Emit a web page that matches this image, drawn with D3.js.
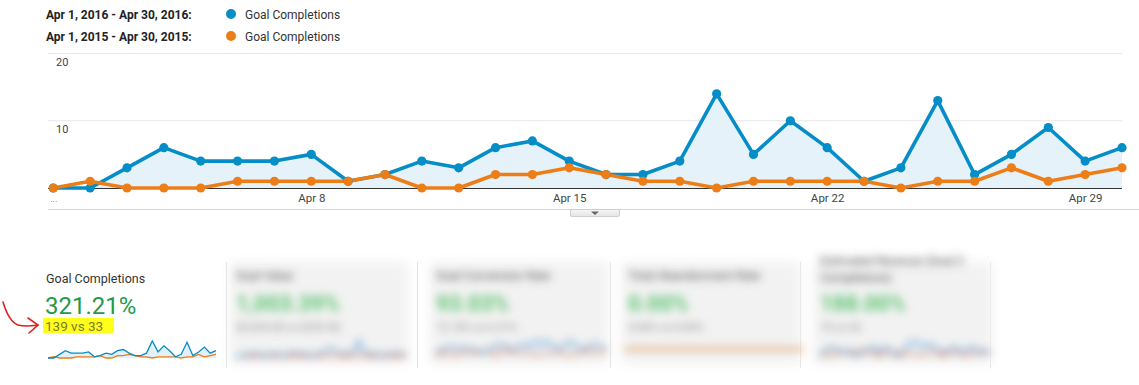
<!DOCTYPE html>
<html>
<head>
<meta charset="utf-8">
<script src="https://cdn.jsdelivr.net/npm/d3@7"></script>
<style>
  body { margin: 0; background: #fff; }
  svg { display: block; font-family: Roboto, "Open Sans", Arial, sans-serif; }
</style>
</head>
<body>
<div id="chart"></div>
<script>
// --- Data ---
const days = d3.range(1, 31).map((d) => `Apr ${d}`);
const goals2016 = [0, 0, 3, 6, 4, 4, 4, 5, 1, 2, 4, 3, 6, 7, 4, 2, 2, 4, 14, 5, 10, 6, 1, 3, 13, 2, 5, 9, 4, 6];
const goals2015 = [0, 1, 0, 0, 0, 1, 1, 1, 1, 2, 0, 0, 2, 2, 3, 2, 1, 1, 0, 1, 1, 1, 1, 0, 1, 1, 3, 1, 2, 3];
const tickDays = ["Apr 1", "Apr 8", "Apr 15", "Apr 22", "Apr 29"];
const tickText = ["...", "Apr 8", "Apr 15", "Apr 22", "Apr 29"];
const yTicks = [10, 20];

const legendRows = [
  { range: "Apr 1, 2016 - Apr 30, 2016:", metric: "Goal Completions", color: "#058dc7" },
  { range: "Apr 1, 2015 - Apr 30, 2015:", metric: "Goal Completions", color: "#ed7e17" },
];

// blurred scorecards (other metrics)
const cardTitles = [["Goal Value"], ["Goal Conversion Rate"], ["Total Abandonment Rate"], ["Estimated Revenue (Goal 3", "Completions)"]];
const cardValues = ["1,003.39%", "93.03%", "0.00%", "188.00%"];
const cardCompare = ["$3,434.00 vs $293.00", "12.18% vs 6.31%", "0.00% vs 0.00%", "75 vs 26"];
const cardSparkA = [
  [0, 0, 1, 1, 1, 0, 1, 1, 0, 1, 2, 1, 1, 0, 1, 2, 5, 3, 1, 1, 2, 9, 1, 1, 1, 0, 1, 1, 1, 1],
  [1, 2, 3, 3, 2, 3, 2, 2, 1, 2, 3, 4, 3, 2, 3, 4, 3, 5, 4, 5, 3, 2, 4, 5, 3, 2, 3, 4, 3, 3],
  [0, 0, 0, 0, 0, 0, 0, 0, 0, 0, 0, 0, 0, 0, 0, 0, 0, 0, 0, 0, 0, 0, 0, 0, 0, 0, 0, 0, 0, 0],
  [0, 2, 3, 2, 1, 2, 0, 1, 2, 3, 1, 3, 2, 0, 1, 4, 5, 4, 3, 4, 2, 1, 2, 3, 1, 2, 3, 1, 2, 1],
];
const cardSparkB = [
  [0, 0, 0, 0, 0, 0, 0, 0, 0, 0, 0, 0, 0, 0, 0, 0, 0, 0, 0, 0, 0, 0, 0, 0, 0, 0, 0, 0, 0, 0],
  [0, 1, 1, 0, 1, 1, 1, 1, 1, 2, 0, 1, 2, 1, 1, 1, 1, 0, 1, 1, 1, 1, 1, 0, 1, 1, 2, 1, 1, 2],
  [0, 0, 0, 0, 0, 0, 0, 0, 0, 0, 0, 0, 0, 0, 0, 0, 0, 0, 0, 0, 0, 0, 0, 0, 0, 0, 0, 0, 0, 0],
  [0, 1, 0, 1, 1, 1, 1, 2, 1, 1, 0, 1, 1, 1, 0, 1, 1, 0, 1, 1, 1, 0, 1, 1, 1, 0, 1, 1, 1, 1],
];

// --- Setup ---
const W = 1139, H = 385;
const blue = "#058dc7", orange = "#ed7e17";

const svg = d3.select("#chart").append("svg").attr("width", W).attr("height", H);

const defs = svg.append("defs");
defs.append("filter").attr("id", "blur").attr("x", "-20%").attr("y", "-40%").attr("width", "140%").attr("height", "180%")
  .append("feGaussianBlur").attr("stdDeviation", 4.2);
defs.append("filter").attr("id", "blurBg").attr("x", "-20%").attr("y", "-20%").attr("width", "140%").attr("height", "140%")
  .append("feGaussianBlur").attr("stdDeviation", 6);
const tabGrad = defs.append("linearGradient").attr("id", "tabGrad").attr("x1", 0).attr("y1", 0).attr("x2", 0).attr("y2", 1);
tabGrad.append("stop").attr("offset", 0).attr("stop-color", "#f7f7f7");
tabGrad.append("stop").attr("offset", 1).attr("stop-color", "#e4e4e4");

// --- Legend ---
const legend = svg.append("g");
legendRows.forEach((r, i) => {
  const y = 18.5 + i * 22;
  legend.append("text").attr("x", 46).attr("y", y).attr("font-size", 12).attr("font-weight", "bold")
    .attr("fill", "#222").text(r.range);
  legend.append("circle").attr("cx", 231).attr("cy", y - 4.5).attr("r", 5).attr("fill", r.color);
  legend.append("text").attr("x", 245).attr("y", y).attr("font-size", 12).attr("fill", "#333").text(r.metric);
});

// --- Main chart ---
const x = d3.scalePoint().domain(days).range([53.3, 1122]);
const y = d3.scaleLinear().domain([0, 20]).range([188, 53.5]);

const plot = svg.append("g");

// gridlines + y labels
yTicks.forEach((t) => {
  plot.append("line").attr("x1", 48).attr("x2", 1122).attr("y1", y(t)).attr("y2", y(t))
    .attr("stroke", "#e6e6e6").attr("stroke-width", 1);
  plot.append("text").attr("x", 56).attr("y", y(t) + 12.5).attr("font-size", 11).attr("fill", "#444").text(t);
});

// area under 2016 series
const area = d3.area().x((d, i) => x(days[i])).y0(y(0)).y1((d) => y(d));
plot.append("path").datum(goals2016).attr("d", area).attr("fill", "#e5f2f9");

// baseline
plot.append("line").attr("x1", 48).attr("x2", 1122).attr("y1", y(0) + 0.5).attr("y2", y(0) + 0.5)
  .attr("stroke", "#333").attr("stroke-width", 1);

// lines and points
const line = d3.line().x((d, i) => x(days[i])).y((d) => y(d));
[[goals2016, blue], [goals2015, orange]].forEach(([vals, c]) => {
  plot.append("path").datum(vals).attr("d", line).attr("fill", "none").attr("stroke", c)
    .attr("stroke-width", 3.6).attr("stroke-linejoin", "round");
});
[[goals2016, blue], [goals2015, orange]].forEach(([vals, c]) => {
  plot.selectAll(null).data(vals).join("circle")
    .attr("cx", (d, i) => x(days[i])).attr("cy", (d) => y(d)).attr("r", 4.6).attr("fill", c);
});

// x axis labels
const xAxis = d3.axisBottom(x).tickValues(tickDays).tickSize(0)
  .tickFormat((d) => tickText[tickDays.indexOf(d)]);
const xg = plot.append("g").attr("transform", `translate(0,${y(0) + 3})`).call(xAxis);
xg.select(".domain").remove();
xg.selectAll("text").attr("font-size", 11.5).attr("fill", "#444").attr("font-family", "Roboto, Arial, sans-serif");
xg.selectAll(".tick").filter((d) => d === "Apr 1").select("text").attr("dy", "0.9em").attr("font-size", 9).attr("fill", "#777");

// bottom border and tab
plot.append("line").attr("x1", 48).attr("x2", W).attr("y1", 209.5).attr("y2", 209.5).attr("stroke", "#d6d6d6");
plot.append("rect").attr("x", 570.5).attr("y", 209.5).attr("width", 49).attr("height", 7).attr("rx", 1.5)
  .attr("fill", "url(#tabGrad)").attr("stroke", "#cfcfcf");
plot.append("path").attr("d", "M591,211.5 L599,211.5 L595,215 Z").attr("fill", "#666");

// --- Scorecard 1 (Goal Completions) ---
const sc = svg.append("g");
sc.append("text").attr("x", 46).attr("y", 283).attr("font-size", 12.5).attr("fill", "#333").text("Goal Completions");
sc.append("text").attr("x", 45).attr("y", 313.5).attr("font-size", 24).attr("fill", "#239a48").text("321.21%");
sc.append("rect").attr("x", 43).attr("y", 318).attr("width", 71).attr("height", 15).attr("fill", "#ffff1a");
sc.append("text").attr("x", 45).attr("y", 330.5).attr("font-size", 13.5).attr("fill", "#7a7a2a")
  .text(`${d3.sum(goals2016)} vs ${d3.sum(goals2015)}`);

function spark(g, a, b, x0, x1, yTop, yBot, width, orangeOnTop) {
  const sx = d3.scalePoint().domain(days).range([x0, x1]);
  const sy = d3.scaleLinear().domain([0, d3.max([d3.max(a), d3.max(b), 1])]).range([yBot, yTop]);
  const ln = d3.line().x((d, i) => sx(days[i])).y((d) => sy(d));
  g.append("path").datum(a).attr("fill", "#e3f0f8")
    .attr("d", d3.area().x((d, i) => sx(days[i])).y0(yBot).y1((d) => sy(d)));
  const series = orangeOnTop ? [[a, blue], [b, orange]] : [[b, orange], [a, blue]];
  series.forEach(([vals, c]) => {
    g.append("path").datum(vals).attr("fill", "none").attr("stroke", c).attr("stroke-width", width).attr("d", ln);
  });
}
spark(sc, goals2016, goals2015, 48, 216, 341, 358, 1.3, false);

// --- Blurred scorecards ---
const cardX = [228, 428, 620, 812];
const sepX = [226, 417, 610, 800, 990];
sepX.forEach((sx) => {
  svg.append("line").attr("x1", sx + 0.5).attr("x2", sx + 0.5).attr("y1", 262).attr("y2", 368)
    .attr("stroke", "#e2e2e2");
});

cardX.forEach((cx, i) => {
  const g = svg.append("g");
  g.append("rect").attr("x", cx + 2).attr("y", 262).attr("width", 178).attr("height", 102)
    .attr("fill", "#f2f2f2").attr("filter", "url(#blurBg)");
  const bg = g.append("g").attr("filter", "url(#blur)");
  const titleY = i === 3 ? 265 : 280;
  cardTitles[i].forEach((t, j) => {
    bg.append("text").attr("x", cx + 8).attr("y", titleY + j * 17).attr("font-size", 12).attr("fill", "#555").text(t);
  });
  bg.append("text").attr("x", cx + 8).attr("y", 311).attr("font-size", 22).attr("font-weight", "bold")
    .attr("fill", "#5cc36f").text(cardValues[i]);
  bg.append("text").attr("x", cx + 8).attr("y", 331).attr("font-size", 11).attr("fill", "#888").text(cardCompare[i]);
  if (i === 2) {
    spark(bg.append("g").attr("opacity", 0.55), cardSparkA[i], cardSparkB[i], cx + 4, cx + 184, 341, 349, 3.5, true);
  } else {
    spark(bg, cardSparkA[i], cardSparkB[i], cx + 8, cx + 178, 341, 356, 2, false);
  }
});

// --- Red annotation arrow ---
const arrow = svg.append("g").attr("fill", "none").attr("stroke", "#e02020").attr("stroke-width", 1.6)
  .attr("stroke-linecap", "round");
arrow.append("path").attr("d", "M3,302 C6,312 10,322 18,325 C25,327 32,326 38,325");
arrow.append("path").attr("d", "M28,318 L38,325 L29,333");
</script>
</body>
</html>
